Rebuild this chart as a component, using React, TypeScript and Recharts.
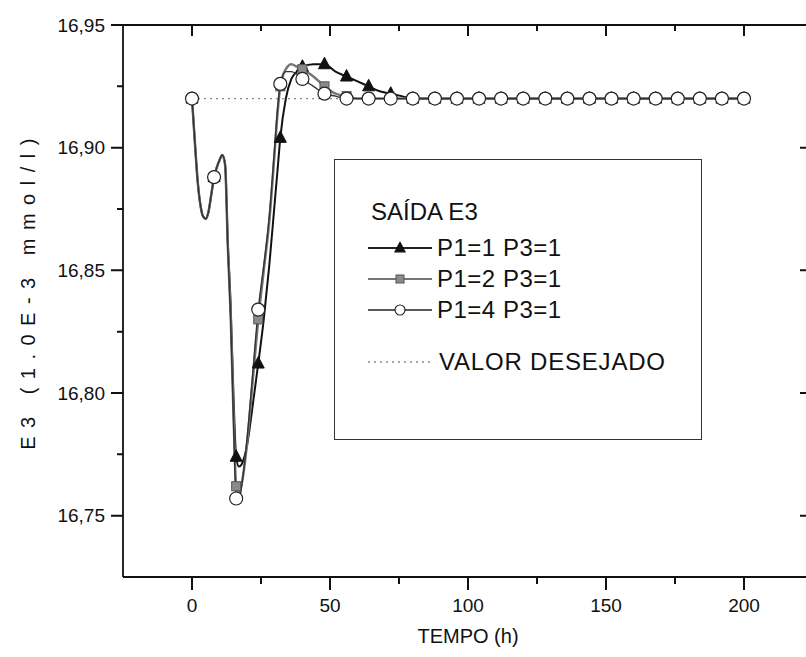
import React from 'react'
import {
  LineChart,
  Line,
  XAxis,
  YAxis,
  ReferenceLine,
  Legend,
} from 'recharts'

// E3 na saída: resposta no tempo para três ajustes de P1 (P3=1)
// Os marcadores aparecem a cada 8 h; a linha usa os pontos intermediários.

const FONT = '"Liberation Sans", Arial, sans-serif'

const times = [
  0, 1, 2, 3, 4, 5, 6, 7, 8, 9, 10, 11, 12, 13, 14, 15, 16, 17, 18, 20,
  22, 24, 26, 28, 30, 31, 32, 34, 36, 38, 40, 44, 48, 52, 56, 60, 64, 68, 72, 76,
  80, 88, 96, 104, 112, 120, 128, 136, 144, 152, 160, 168, 176, 184, 192, 200,
]

// P1=1 P3=1
const p1Series = [
  16.92, 16.903, 16.887, 16.877, 16.872, 16.871, 16.874, 16.881, 16.888, 16.892,
  16.895, 16.897, 16.893, 16.861, 16.836, 16.8, 16.774, 16.77, 16.771, 16.779,
  16.795, 16.812, 16.83, 16.852, 16.878, 16.891, 16.904, 16.92, 16.928, 16.931,
  16.933, 16.934, 16.934, 16.931, 16.929, 16.927, 16.925, 16.923, 16.922, 16.921,
  16.92, 16.92, 16.92, 16.92, 16.92, 16.92, 16.92, 16.92, 16.92, 16.92,
  16.92, 16.92, 16.92, 16.92, 16.92, 16.92,
]

// P1=2 P3=1
const p2Series = [
  16.92, 16.903, 16.887, 16.877, 16.872, 16.871, 16.874, 16.881, 16.888, 16.892,
  16.895, 16.897, 16.893, 16.859, 16.832, 16.793, 16.762, 16.759, 16.763, 16.78,
  16.805, 16.83, 16.85, 16.87, 16.899, 16.914, 16.925, 16.932, 16.934, 16.933,
  16.932, 16.929, 16.925, 16.922, 16.921, 16.92, 16.92, 16.92, 16.92, 16.92,
  16.92, 16.92, 16.92, 16.92, 16.92, 16.92, 16.92, 16.92, 16.92, 16.92,
  16.92, 16.92, 16.92, 16.92, 16.92, 16.92,
]

// P1=4 P3=1
const p4Series = [
  16.92, 16.903, 16.887, 16.877, 16.872, 16.871, 16.874, 16.881, 16.888, 16.892,
  16.895, 16.897, 16.893, 16.858, 16.83, 16.79, 16.757, 16.756, 16.762, 16.782,
  16.808, 16.834, 16.852, 16.872, 16.901, 16.916, 16.926, 16.931, 16.931, 16.93,
  16.928, 16.925, 16.922, 16.921, 16.92, 16.92, 16.92, 16.92, 16.92, 16.92,
  16.92, 16.92, 16.92, 16.92, 16.92, 16.92, 16.92, 16.92, 16.92, 16.92,
  16.92, 16.92, 16.92, 16.92, 16.92, 16.92,
]

const targetValue = 16.92
const targetSpan = [0, 200]
const markerStep = 8

const xTicks = [0, 25, 50, 75, 100, 125, 150, 175, 200]
const yTicks = [16.75, 16.775, 16.8, 16.825, 16.85, 16.875, 16.9, 16.925, 16.95]
const xDomain = [-25, 225]
const yDomain = [16.725, 16.95]

const data = times.map((t, i) => ({
  t,
  a: p1Series[i],
  b: p2Series[i],
  c: p4Series[i],
}))

const isMajorX = (v: number) => v % 50 === 0
const isMajorY = (v: number) => Math.round(v * 1000) % 50 === 0

const INK = '#111'
const axisLineStyle = { stroke: INK, strokeWidth: 1.8 }

// rótulos dos eixos (só texto)
const BottomLabel = ({ x, y, payload }: any) =>
  isMajorX(payload.value) ? (
    <text x={x} y={y + 35} textAnchor="middle" fontSize={19} fontFamily={FONT} fill={INK}>
      {payload.value}
    </text>
  ) : (
    <g />
  )

const LeftLabel = ({ x, y, payload }: any) =>
  isMajorY(payload.value) ? (
    <text x={x - 18} y={y} dy="0.35em" textAnchor="end" fontSize={19} fontFamily={FONT} fill={INK}>
      {payload.value.toFixed(2).replace('.', ',')}
    </text>
  ) : (
    <g />
  )

// traços: para fora em baixo/esquerda, para dentro em cima/direita
const XTickShape = ({ x1, y1, y2, major }: any) => {
  const bottom = Math.max(y1, y2)
  const top = Math.min(y1, y2)
  return (
    <path
      d={`M${x1},${bottom}L${x1},${bottom + (major ? 13 : 7)}M${x1},${top}L${x1},${top + (major ? 11 : 6)}`}
      stroke={INK}
      strokeWidth={2}
      fill="none"
    />
  )
}

const YTickShape = ({ x1, x2, y1, major }: any) => {
  const left = Math.min(x1, x2)
  const right = Math.max(x1, x2)
  return (
    <path
      d={`M${left},${y1}L${left - (major ? 12 : 6)},${y1}M${right},${y1}L${right - (major ? 13 : 6)},${y1}`}
      stroke={INK}
      strokeWidth={2}
      fill="none"
    />
  )
}

const onStep = (p: any) => p.payload && p.payload.t % markerStep === 0

const TriangleDot = (p: any) => {
  if (!onStep(p)) return <g key={`a${p.index}`} />
  const { cx, cy } = p
  return (
    <polygon
      key={`a${p.index}`}
      points={`${cx},${cy - 7} ${cx - 6},${cy + 4.5} ${cx + 6},${cy + 4.5}`}
      fill={INK}
      stroke={INK}
    />
  )
}

const SquareDot = (p: any) => {
  if (!onStep(p)) return <g key={`b${p.index}`} />
  const { cx, cy } = p
  return <rect key={`b${p.index}`} x={cx - 4.5} y={cy - 4.5} width={9} height={9} fill="#8a8a8a" stroke="#555" />
}

const CircleDot = (p: any) => {
  if (!onStep(p)) return <g key={`c${p.index}`} />
  return <circle key={`c${p.index}`} cx={p.cx} cy={p.cy} r={6.5} fill="#fff" stroke="#222" strokeWidth={1.2} />
}

const legendRows = [
  { label: 'P1=1 P3=1', kind: 'tri' },
  { label: 'P1=2 P3=1', kind: 'sq' },
  { label: 'P1=4 P3=1', kind: 'circ' },
]

const LegendIcon = ({ kind }: { kind: string }) => (
  <svg width={64} height={16} style={{ display: 'block' }}>
    {kind === 'target' ? (
      <line x1={0} x2={64} y1={8} y2={8} stroke="#888" strokeWidth={1.3} strokeDasharray="2 4" />
    ) : (
      <line x1={0} x2={64} y1={8} y2={8} stroke={kind === 'sq' ? '#777' : '#222'} strokeWidth={kind === 'circ' ? 1.4 : 2} />
    )}
    {kind === 'tri' && <polygon points="32,1 26,12.5 38,12.5" fill={INK} />}
    {kind === 'sq' && <rect x={28} y={4} width={8} height={8} fill="#8a8a8a" stroke="#555" />}
    {kind === 'circ' && <circle cx={32} cy={8} r={5} fill="#fff" stroke="#222" strokeWidth={1.1} />}
  </svg>
)

const LegendBox = () => (
  <div
    style={{
      boxSizing: 'border-box',
      width: 368,
      height: 281,
      border: '1.5px solid #333',
      background: '#fff',
      fontFamily: FONT,
      fontSize: 24,
      color: INK,
      position: 'relative',
    }}
  >
    <div style={{ position: 'absolute', left: 36, top: 38, lineHeight: '28px' }}>SAÍDA E3</div>
    {legendRows.map((r, i) => (
      <div
        key={r.label}
        style={{ position: 'absolute', left: 33, top: 74 + i * 31, display: 'flex', alignItems: 'center', gap: 5, lineHeight: '28px', letterSpacing: 0.5 }}
      >
        <LegendIcon kind={r.kind} />
        <span>{r.label}</span>
      </div>
    ))}
    <div style={{ position: 'absolute', left: 33, top: 188, display: 'flex', alignItems: 'center', gap: 7, lineHeight: '28px', letterSpacing: 0.8 }}>
      <LegendIcon kind="target" />
      <span>VALOR DESEJADO</span>
    </div>
  </div>
)

export default function App() {
  return (
    <div style={{ position: 'fixed', left: 0, top: 0, width: 806, height: 657, overflow: 'hidden', background: '#fff' }}>
      <LineChart
        width={830}
        height={657}
        data={data}
        margin={{ top: 24, right: 16, bottom: 79, left: 122 }}
      >
        <XAxis
          dataKey="t"
          type="number"
          domain={xDomain}
          allowDataOverflow
          ticks={xTicks}
          interval={0}
          height={1}
          tickSize={0}
          tickMargin={0}
          tickLine={false}
          axisLine={axisLineStyle}
          tick={<BottomLabel />}
          label={{
            content: () => (
              <text x={468} y={643} textAnchor="middle" fontSize={20} fontFamily={FONT} fill={INK}>
                TEMPO (h)
              </text>
            ),
          }}
        />
        <XAxis
          xAxisId="top"
          orientation="top"
          type="number"
          domain={xDomain}
          allowDataOverflow
          ticks={xTicks}
          height={1}
          tickLine={false}
          tick={false}
          axisLine={axisLineStyle}
        />
        <YAxis
          type="number"
          domain={yDomain}
          allowDataOverflow
          ticks={yTicks}
          interval={0}
          width={1}
          tickSize={0}
          tickMargin={0}
          tickLine={false}
          axisLine={axisLineStyle}
          tick={<LeftLabel />}
          label={{
            content: () => (
              <text
                x={30}
                y={290}
                transform="rotate(-90 30 290)"
                textAnchor="middle"
                dominantBaseline="middle"
                fontSize={20}
                letterSpacing={8.5}
                fontFamily={FONT}
                fill={INK}
              >
                E3 (1.0E-3 mmol/l)
              </text>
            ),
          }}
        />
        <YAxis
          yAxisId="right"
          orientation="right"
          type="number"
          domain={yDomain}
          allowDataOverflow
          ticks={yTicks}
          width={1}
          tickLine={false}
          tick={false}
          axisLine={axisLineStyle}
        />
        {xTicks.map((v) => (
          <ReferenceLine
            key={`xt${v}`}
            x={v}
            ifOverflow="visible"
            shape={(p: any) => <XTickShape {...p} major={isMajorX(v)} />}
          />
        ))}
        {yTicks.map((v) => (
          <ReferenceLine
            key={`yt${v}`}
            y={v}
            ifOverflow="visible"
            shape={(p: any) => <YTickShape {...p} major={isMajorY(v)} />}
          />
        ))}
        <ReferenceLine
          segment={[
            { x: targetSpan[0], y: targetValue },
            { x: targetSpan[1], y: targetValue },
          ]}
          stroke="#888"
          strokeWidth={1.3}
          strokeDasharray="2 4"
        />
        <Legend
          layout="vertical"
          align="center"
          verticalAlign="middle"
          wrapperStyle={{ left: 334, top: 159, width: 368, height: 281 }}
          content={() => <LegendBox />}
        />
        <Line
          type="monotone"
          dataKey="a"
          stroke={INK}
          strokeWidth={2}
          dot={TriangleDot}
          activeDot={false}
          isAnimationActive={false}
        />
        <Line
          type="monotone"
          dataKey="b"
          stroke="#777"
          strokeWidth={2.5}
          dot={SquareDot}
          activeDot={false}
          isAnimationActive={false}
        />
        <Line
          type="monotone"
          dataKey="c"
          stroke="#333"
          strokeWidth={1.4}
          dot={CircleDot}
          activeDot={false}
          isAnimationActive={false}
        />
      </LineChart>
    </div>
  )
}
